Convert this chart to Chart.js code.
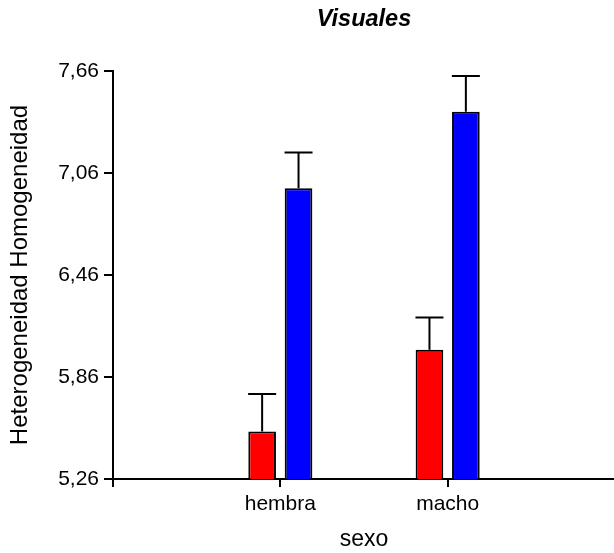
<!DOCTYPE html>
<html lang="es">
  <head>
    <meta charset="UTF-8" />
    <title>Visuales</title>
    <script src="https://cdn.jsdelivr.net/npm/chart.js"></script>
    <style>
      html, body { margin: 0; padding: 0; background: #fff; overflow: hidden; }
      /* a little wider than the window: the x axis runs off the right edge */
      .chart-box { position: relative; width: 620px; height: 553px; }
    </style>
  </head>
  <body>
    <div class="chart-box"><canvas id="chart"></canvas></div>

    <script>
      const categories = ["hembra", "macho"];
      const heteroMeans = [5.54, 6.02];
      const heteroErrors = [0.22, 0.19];
      const homoMeans = [6.97, 7.42];
      const homoErrors = [0.21, 0.21];
      const yTicks = [5.26, 5.86, 6.46, 7.06, 7.66];

      const FONT = "'Liberation Sans', Arial, sans-serif";

      // empty slots on both sides so the categories sit at 1/3 and 2/3 of the axis
      const labels = ["", ...categories, ""];
      const pad = (arr) => [null, ...arr, null];

      const errorBars = {
        id: "errorBars",
        afterDatasetsDraw(chart) {
          const ctx = chart.ctx;
          const y = chart.scales.y;
          ctx.save();
          ctx.strokeStyle = "#000";
          ctx.lineWidth = 2;
          chart.data.datasets.forEach((ds, i) => {
            chart.getDatasetMeta(i).data.forEach((bar, j) => {
              const v = ds.data[j];
              if (v == null) return;
              const top = y.getPixelForValue(v + ds.errors[j]);
              ctx.beginPath();
              ctx.moveTo(bar.x, bar.y);
              ctx.lineTo(bar.x, top);
              ctx.moveTo(bar.x - 14, top);
              ctx.lineTo(bar.x + 14, top);
              ctx.stroke();
            });
          });
          ctx.restore();
        },
      };

      new Chart(document.getElementById("chart"), {
        type: "bar",
        data: {
          labels: labels,
          datasets: [
            {
              label: "Heterogeneidad",
              data: pad(heteroMeans),
              errors: pad(heteroErrors),
              backgroundColor: "#ff0000",
            },
            {
              label: "Homogeneidad",
              data: pad(homoMeans),
              errors: pad(homoErrors),
              backgroundColor: "#0000ff",
            },
          ],
        },
        options: {
          responsive: true,
          maintainAspectRatio: false,
          animation: false,
          layout: { padding: 0 },
          datasets: {
            bar: {
              borderColor: "#000",
              borderWidth: 2,
              borderSkipped: false,
              categoryPercentage: 0.435,
              barPercentage: 0.76,
            },
          },
          plugins: {
            legend: { display: false },
            tooltip: { enabled: false },
            title: {
              display: true,
              fullSize: false,
              text: "Visuales",
              color: "#000",
              align: "center",
              font: { family: FONT, size: 23.5, weight: "bold", style: "italic" },
              padding: { top: 5, bottom: 37.8 },
            },
          },
          scales: {
            x: {
              type: "category",
              offset: false,
              afterFit: (s) => { s.height = 74; },
              border: { display: true, color: "#000", width: 2 },
              grid: {
                display: true,
                offset: false,
                drawOnChartArea: false,
                drawTicks: true,
                tickLength: 8,
                color: "#000",
                lineWidth: 2,
              },
              ticks: {
                color: "#000",
                padding: 5,
                maxRotation: 0,
                autoSkip: false,
                font: { family: FONT, size: 21 },
              },
              title: {
                display: true,
                text: "sexo",
                color: "#000",
                font: { family: FONT, size: 23 },
                padding: { top: 0, bottom: 0 },
              },
            },
            y: {
              min: 5.26,
              max: 7.66,
              afterFit: (s) => { s.width = 113; },
              afterBuildTicks: (s) => { s.ticks = yTicks.map((v) => ({ value: v })); },
              border: { display: true, color: "#000", width: 2 },
              grid: {
                display: true,
                drawOnChartArea: false,
                drawTicks: true,
                tickLength: 9,
                color: "#000",
                lineWidth: 2,
              },
              ticks: {
                color: "#000",
                padding: 5,
                font: { family: FONT, size: 21 },
                callback: (v) => v.toFixed(2).replace(".", ","),
              },
              title: {
                display: true,
                text: "Heterogeneidad Homogeneidad",
                color: "#000",
                font: { family: FONT, size: 24 },
                padding: { top: 6, bottom: 0 },
              },
            },
          },
        },
        plugins: [errorBars],
      });
    </script>
  </body>
</html>
